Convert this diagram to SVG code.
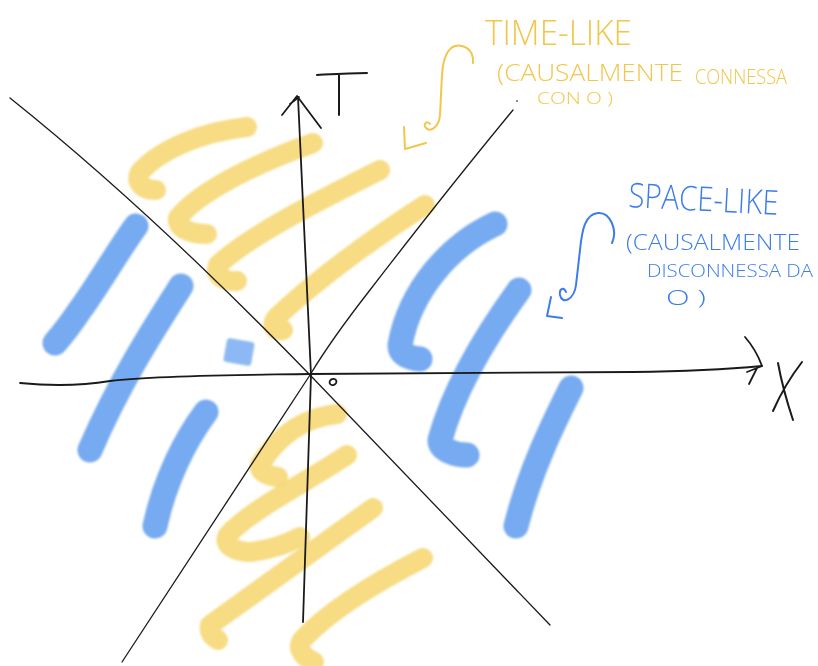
<svg xmlns="http://www.w3.org/2000/svg" width="818" height="666" viewBox="0 0 818 666">
<style>
.ink{fill:none;stroke:#1a1a1a;stroke-linecap:round;stroke-linejoin:round}
.yh{fill:none;stroke:#F6D772;stroke-opacity:0.88;stroke-width:20;stroke-linecap:round;stroke-linejoin:round}
.bh{fill:none;stroke:#5D9BEE;stroke-opacity:0.85;stroke-width:25;stroke-linecap:round;stroke-linejoin:round}
.yt{fill:#F2C64A;font-family:"Open Sans","Liberation Sans",sans-serif;font-weight:300}
.bt{fill:#3C7DE8;font-family:"Open Sans","Liberation Sans",sans-serif;font-weight:300}
.yc{fill:none;stroke:#F2C64A;stroke-width:2;stroke-linecap:round;stroke-linejoin:round}
.bc{fill:none;stroke:#3C7DE8;stroke-width:2;stroke-linecap:round;stroke-linejoin:round}
</style>
<defs>
<filter id="soft" x="-10%" y="-10%" width="120%" height="120%"><feGaussianBlur stdDeviation="0.8"/></filter>
</defs>
<rect width="818" height="666" fill="#ffffff"/>

<g id="timelike-highlights" filter="url(#soft)">
<path class="yh" d="M156,190 C142,190 135,182 140,172 C160,150 200,132 247,127"/>
<path class="yh" d="M207,234 C190,234 176,228 178,218 C200,190 260,162 313,143"/>
<path class="yh" d="M237,281 C222,282 214,274 218,265 C250,235 320,200 380,170"/>
<path class="yh" d="M283,330 C275,332 270,325 276,318 C310,285 370,240 425,205"/>
<path class="yh" d="M337,414 C300,418 275,440 260,465 C258,472 268,476 278,477"/>
<path class="yh" d="M347,455 C310,480 250,510 228,535 C222,545 235,552 250,552 C270,550 285,545 300,537"/>
<path class="yh" d="M373,508 L210,625 Q208,634 218,640"/>
<path class="yh" d="M423,558 C380,580 330,610 302,640 C296,650 305,658 314,662"/>
</g>

<g id="spacelike-highlights" filter="url(#soft)">
<path class="bh" d="M136,226 C123,243 95,290 80,310 C70,325 62,335 55,343"/>
<path class="bh" d="M181,286 C158,322 120,380 90,450"/>
<rect x="225" y="340" width="28" height="24" rx="3" fill="#5D9BEE" fill-opacity="0.7" transform="rotate(10 239 352)"/>
<path class="bh" d="M206,412 C185,440 165,480 155,526"/>
<path class="bh" d="M495,224 C450,245 410,290 400,345 C400,355 410,358 420,359"/>
<path class="bh" d="M519,290 C490,330 455,385 440,440 C440,450 455,455 467,455"/>
<path class="bh" d="M571,388 C555,420 530,470 516,526"/>
</g>

<g id="light-cone">
<path class="ink" stroke-width="1.3" d="M10,98 Q150,210 310,375 L550,625"/>
<path class="ink" stroke-width="1.3" d="M513,110 C480,150 420,225 370,290 C345,322 325,350 310,375 L122,662"/>
<circle cx="517" cy="101" r="0.9" fill="#555"/>
</g>

<g id="axis-t">
<path class="ink" stroke-width="1.8" d="M303,622 L311,375 L298,97"/>
<path class="ink" stroke-width="1.8" d="M282,115 L297,96 L321,128 M290,104 L299,97"/>
<path class="ink" stroke-width="2" d="M317,75 C335,74 350,73 367,73 M339,75 L339,115"/>
</g>

<g id="axis-x">
<path class="ink" stroke-width="1.8" d="M20,383 C50,386 80,386 110,381 C160,375 250,375 310,374 L633,372 C700,371 740,368 762,366"/>
<path class="ink" stroke-width="1.8" d="M745,337 C752,345 758,355 762,366 L747,372 M757,368 L749,384"/>
<path class="ink" stroke-width="2" d="M778,363 C782,385 788,405 793,420 M802,362 C792,375 780,395 773,411"/>
</g>

<g id="origin">
<ellipse class="ink" stroke-width="1.8" cx="333" cy="382" rx="3.5" ry="3" transform="rotate(-20 333 382)"/>
</g>

<g id="timelike-label">
<text class="yt" x="485" y="45" font-size="35" textLength="147" lengthAdjust="spacingAndGlyphs">TIME-LIKE</text>
<text class="yt" x="497" y="81" font-size="23" textLength="186" lengthAdjust="spacingAndGlyphs">(CAUSALMENTE</text>
<text class="yt" x="695" y="84" font-size="20" textLength="92" lengthAdjust="spacingAndGlyphs">CONNESSA</text>
<text class="yt" x="537" y="104" font-size="16" textLength="76" lengthAdjust="spacingAndGlyphs">CON O )</text>
<path class="yc" d="M473,63 C474,48 462,44 455,46 C446,49 443,60 442,75 L440,115 C439,128 430,132 426,128 C422,124 428,120 430,124"/>
<path class="yc" d="M404,127 L405,149 L426,143"/>
</g>

<g id="spacelike-label">
<text class="bt" x="628" y="207" font-size="34" textLength="150" lengthAdjust="spacingAndGlyphs" transform="rotate(3 628 207)">SPACE-LIKE</text>
<text class="bt" x="626" y="250" font-size="22" textLength="174" lengthAdjust="spacingAndGlyphs">(CAUSALMENTE</text>
<text class="bt" x="647" y="277" font-size="19" textLength="166" lengthAdjust="spacingAndGlyphs">DISCONNESSA DA</text>
<text class="bt" x="666" y="305" font-size="21" textLength="40" lengthAdjust="spacingAndGlyphs">O )</text>
<path class="bc" d="M612,243 C618,230 610,212 598,213 C585,214 582,230 580,250 L576,285 C574,300 562,305 560,295 C559,288 564,287 566,292"/>
<path class="bc" d="M551,297 L547,316 L562,318"/>
</g>
</svg>
